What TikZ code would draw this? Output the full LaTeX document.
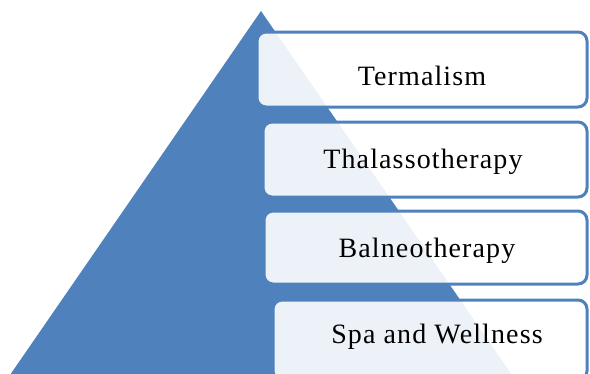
\documentclass[tikz,border=0pt]{standalone}
\usepackage{fontspec}
\setmainfont{Liberation Serif}[LetterSpace=4]
\definecolor{pyr}{HTML}{4F81BD}
\tikzset{
  tier/.style={draw=pyr, line width=3pt, fill=white, fill opacity=0.9, rounded corners=9pt},
  lbl/.style={anchor=base, inner sep=0pt, font=\fontsize{28}{30}\selectfont, text=black}
}
\begin{document}
\begin{tikzpicture}[x=1pt,y=-1pt]
\useasboundingbox (0,0) rectangle (590,373);
\fill[pyr] (261,11) coordinate (apex) -- (10,375) -- (512,375) -- cycle;
\draw[tier] (257,32) rectangle (587,107);
\draw[tier] (263,122) rectangle (587,197);
\draw[tier] (264,211) rectangle (587,284);
\draw[tier] (273,300) rectangle (587,380);
\node[lbl] (t1) at (422,85) {Termalism};
\node[lbl] (t2) at (423,168) {Thalassotherapy};
\node[lbl] (t3) at (427,257) {Balneotherapy};
\node[lbl] (t4) at (437,343) {Spa and Wellness};
\end{tikzpicture}
\end{document}
